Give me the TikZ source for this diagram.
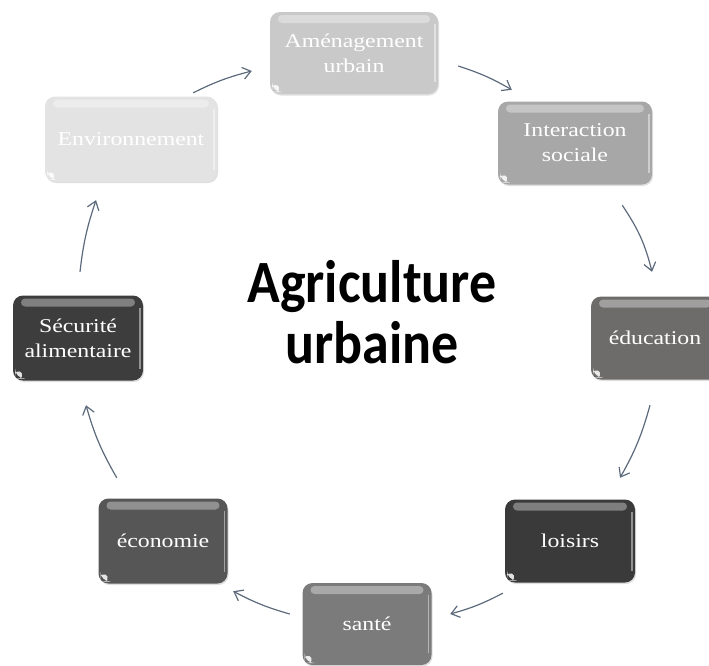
\documentclass[tikz,border=0pt]{standalone}
\usepackage{fontspec}
\setmainfont{Liberation Serif}
\newfontfamily\tilefont[FakeStretch=1.22]{Liberation Serif}
\newfontfamily\titlefont[FakeStretch=0.9]{Carlito}
\usepackage{xcolor}
\usepackage{tikz}
\usetikzlibrary{arrows.meta,shadows}
\definecolor{flowcol}{RGB}{92,106,124}
\definecolor{envcol}{RGB}{227,227,227}
\definecolor{amencol}{RGB}{201,201,201}
\definecolor{intercol}{RGB}{167,167,167}
\definecolor{educcol}{RGB}{110,107,107}
\definecolor{loisircol}{RGB}{58,58,58}
\definecolor{santecol}{RGB}{123,123,123}
\definecolor{ecocol}{RGB}{86,86,86}
\definecolor{secucol}{RGB}{61,61,61}
\tikzset{
	tile/.style={rounded corners=10pt, text=white, align=center, inner sep=0pt,
		font=\tilefont\fontsize{19.5}{25}\selectfont,
		drop shadow={opacity=.25, shadow xshift=1pt, shadow yshift=-1.5pt},
		path picture={
			\fill[white, opacity=.35, rounded corners=4pt] ([xshift=8pt,yshift=-3pt]path picture bounding box.north west) rectangle ([xshift=-8pt,yshift=-11pt]path picture bounding box.north east);
			\draw[white, opacity=.45, line width=1.5pt] ([xshift=-3pt,yshift=-12pt]path picture bounding box.north east) -- ([xshift=-3pt,yshift=12pt]path picture bounding box.south east);
			\fill[white, opacity=.85] ([xshift=2pt,yshift=2pt]path picture bounding box.south west) -- ++(12pt,0) -- ++(-12pt,12pt) -- cycle;
		}},
	flow/.style={draw=flowcol, line width=1.2pt, -{Straight Barb[length=8pt,width=12pt]}},
}

\begin{document}
\begin{tikzpicture}[x=1pt, y=-1pt]
	\useasboundingbox (0,0) rectangle (709,665);
	\node[tile, fill=amencol, minimum width=168pt, minimum height=82pt] (amen) at (354,53) {Aménagement\\urbain};
	\node[tile, fill=intercol, minimum width=154pt, minimum height=83pt] (inter) at (575,143) {Interaction\\sociale};
	\node[tile, fill=educcol, minimum width=128pt, minimum height=83pt] (educ) at (655,338) {éducation};
	\node[tile, fill=loisircol, minimum width=130pt, minimum height=83pt] (loisirs) at (570,541) {loisirs};
	\node[tile, fill=santecol, minimum width=129pt, minimum height=82pt] (sante) at (367,624) {santé};
	\node[tile, fill=ecocol, minimum width=129pt, minimum height=85pt] (eco) at (163,541) {économie};
	\node[tile, fill=secucol, minimum width=130pt, minimum height=85pt] (secu) at (78,338) {Sécurité\\alimentaire};
	\node[tile, fill=envcol, minimum width=172pt, minimum height=85pt] (env) at (131,139) {Environnement};
	\node[align=center, inner sep=0pt, font=\titlefont\bfseries\fontsize{60}{61}\selectfont] (titre) at (372,312) {Agriculture\\urbaine};
	\draw[flow] ([shift={(-24,-3.5)}]env.north east) to[bend left=6] ([shift={(-18,18)}]amen.west);
	\draw[flow] ([shift={(20,13)}]amen.east) to[bend left=6] ([shift={(14,-11.5)}]inter.north west);
	\draw[flow] ([shift={(-30,20.5)}]inter.south east) to[bend left=10] ([shift={(-3,-24.5)}]educ.north);
	\draw[flow] ([shift={(-5,25.5)}]educ.south) to[bend left=7] ([shift={(50,-21.5)}]loisirs.north);
	\draw[flow] ([shift={(-2,10.5)}]loisirs.south west) to[bend left=6] ([shift={(18.5,-10)}]sante.east);
	\draw[flow] ([shift={(-12.5,-10)}]sante.west) to[bend left=6] ([shift={(5.5,7.5)}]eco.south east);
	\draw[flow] ([shift={(18.5,-20.5)}]eco.north west) to[bend left=7] ([shift={(8,24.5)}]secu.south);
	\draw[flow] ([shift={(2,-23.5)}]secu.north) to[bend left=6] ([shift={(-35,18.5)}]env.south);
\end{tikzpicture}
\end{document}
